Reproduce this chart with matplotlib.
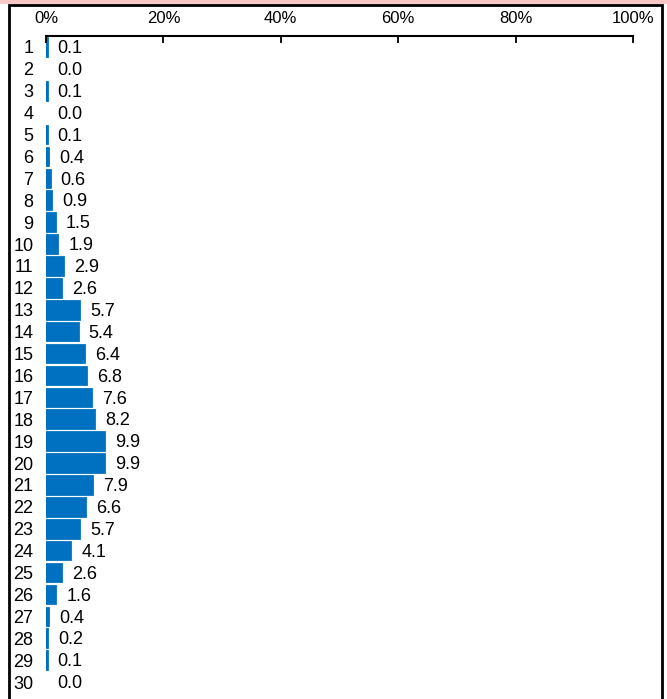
import matplotlib
matplotlib.use("Agg")
import matplotlib.pyplot as plt
from matplotlib.patches import Rectangle

plt.rcParams['font.family'] = ['Liberation Sans Narrow', 'Liberation Sans', 'DejaVu Sans']

# share of respondents (%) by rank / item number
categories = [str(i) for i in range(1, 31)]
values = [0.1, 0.0, 0.1, 0.0, 0.1, 0.4, 0.6, 0.9, 1.5, 1.9,
          2.9, 2.6, 5.7, 5.4, 6.4, 6.8, 7.6, 8.2, 9.9, 9.9,
          7.9, 6.6, 5.7, 4.1, 2.6, 1.6, 0.4, 0.2, 0.1, 0.0]
tick_values = [0, 20, 40, 60, 80, 100]
tick_labels = ['0%', '20%', '40%', '60%', '80%', '100%']

bar_color = '#0070C0'

W, H = 667, 699
fig = plt.figure(figsize=(W / 100, H / 100), dpi=100)
fig.patch.set_facecolor('white')

# pink strip at top and the outer frame (behind the axes)
fig.patches.append(Rectangle((0, 1 - 4 / H), 1, 4 / H, transform=fig.transFigure,
                             facecolor='#F8C8C8', edgecolor='none', zorder=-2))
fig.patches.append(Rectangle((9 / W, -0.01), (662 - 9) / W, 1 - 5 / H + 0.01,
                             transform=fig.transFigure, facecolor='white',
                             edgecolor='black', linewidth=2, zorder=-1))

ax = fig.add_axes([46 / W, 1 - 693 / H, (633 - 46) / W, (693 - 36) / H])
ax.set_facecolor('none')

y = list(range(len(values)))
edges = [bar_color if v > 0 else 'none' for v in values]
ax.barh(y, values, height=0.8, color=bar_color, edgecolor=edges, linewidth=2)

for yi, v in zip(y, values):
    ax.annotate(f'{v:.1f}', xy=(v, yi), xytext=(8, -1.2), textcoords='offset points',
                ha='left', va='center', fontsize=13, color='black')

ax.set_xlim(0, 100)
ax.set_ylim(len(values) - 0.5, -0.5)
ax.set_xticks(tick_values)
ax.set_xticklabels(tick_labels, fontsize=12)
ax.set_yticks(y)
ax.set_yticklabels(categories, fontsize=13)

ax.xaxis.set_ticks_position('top')
ax.xaxis.set_label_position('top')
ax.tick_params(axis='x', direction='in', length=5, width=1.3, pad=7)
ax.tick_params(axis='y', length=0, pad=9)

for side in ['right', 'bottom', 'left']:
    ax.spines[side].set_visible(False)
ax.spines['top'].set_linewidth(1.5)

fig.savefig('out.png', dpi=100)
